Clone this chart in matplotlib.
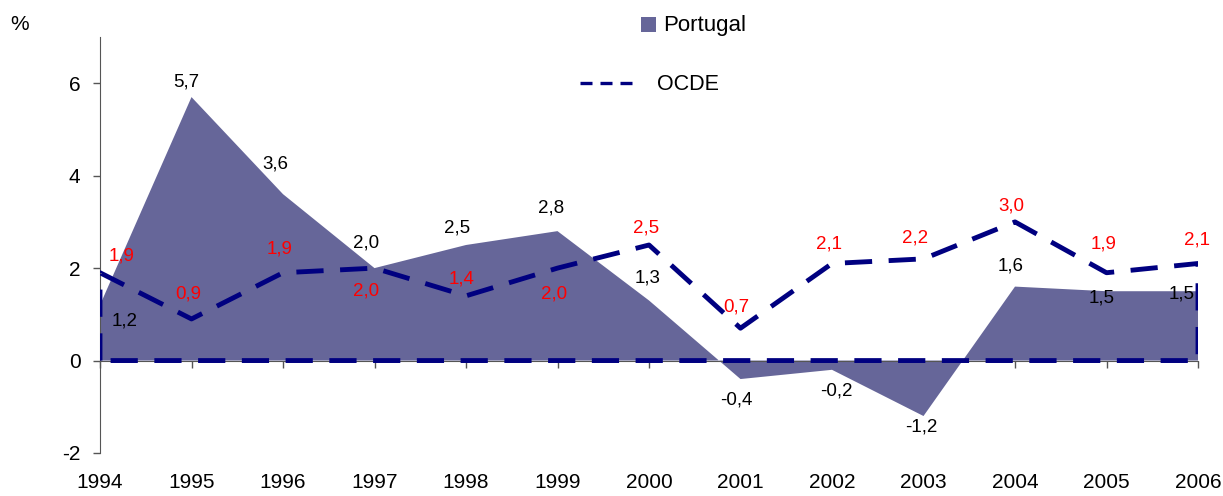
import matplotlib
matplotlib.use("Agg")
import matplotlib.pyplot as plt
import matplotlib.transforms as mtransforms
import numpy as np

years = [1994, 1995, 1996, 1997, 1998, 1999, 2000, 2001, 2002, 2003, 2004, 2005, 2006]
portugal = [1.2, 5.7, 3.6, 2.0, 2.5, 2.8, 1.3, -0.4, -0.2, -1.2, 1.6, 1.5, 1.5]
ocde = [1.9, 0.9, 1.9, 2.0, 1.4, 2.0, 2.5, 0.7, 2.1, 2.2, 3.0, 1.9, 2.1]
yticks = [-2, 0, 2, 4, 6]

# label centre offsets from the point, in pixels (dx, dy up)
pt_off = [(25, -16), (-5, 15), (-8, 30), (-8, 25), (-9, 17), (-6, 23), (-1, 22),
          (-4, -21), (4, -21), (-2, -11), (-4, 21), (-5, -7), (-16, -3)]
oc_off = [(22, 17), (-3, 25), (-3, 24), (-8, -23), (-4, 17), (-3, -26), (-3, 17),
          (-4, 21), (-3, 19), (-8, 21), (-4, 16), (-3, 29), (-1, 23)]

plt.rcParams['font.family'] = ['Liberation Sans', 'DejaVu Sans']

fig = plt.figure(figsize=(12.23, 4.96), dpi=100)
ax = fig.add_axes([100/1223, 1-453/496, 1098/1223, 416/496])

ax.fill_between(years, portugal, 0, facecolor='#666699', edgecolor='none', zorder=2)
ax.fill_between(years, ocde, 0, facecolor='none', edgecolor='#000080',
                linewidth=3.5, linestyle=(0, (5.6, 3.4)), zorder=4)

ax.set_xlim(1994, 2006)
ax.set_ylim(-2, 7)
ax.spines['top'].set_visible(False)
ax.spines['right'].set_visible(False)
ax.spines['bottom'].set_position(('data', 0))
ax.spines['bottom'].set_color('#555555')
ax.spines['left'].set_color('#555555')
ax.spines['bottom'].set_zorder(3)
ax.set_yticks(yticks)
ax.set_yticklabels([str(v) for v in yticks], fontsize=15)
ax.set_xticks(years)
ax.set_xticklabels([])
ax.tick_params(axis='both', direction='out', length=5, color='#555555', width=1)
ax.tick_params(axis='y', pad=9)

trans = mtransforms.blended_transform_factory(ax.transData, ax.transAxes)
for y in years:
    ax.text(y, -30/416, str(y), transform=trans, ha='center', va='center', fontsize=15)

def fmt(v):
    return f"{v:.1f}".replace('.', ',')

px = 72 / 100.0
for x, v, (dx, dy) in zip(years, portugal, pt_off):
    ax.annotate(fmt(v), (x, v), xytext=(dx * px, dy * px), textcoords='offset points',
                ha='center', va='center', fontsize=13.5, color='black', zorder=6)
for x, v, (dx, dy) in zip(years, ocde, oc_off):
    ax.annotate(fmt(v), (x, v), xytext=(dx * px, dy * px), textcoords='offset points',
                ha='center', va='center', fontsize=13.5, color='#ff0000', zorder=6)

fig.text(20/1223, 1-25/496, '%', fontsize=15, ha='center', va='center')

# legend
fig.patches.append(plt.Rectangle((641/1223, 1-32/496), 15/1223, 15/496, transform=fig.transFigure,
                                 facecolor='#666699', edgecolor='none'))
fig.text(663/1223, 1-25/496, 'Portugal', fontsize=16, ha='left', va='center')
fig.lines.append(plt.Line2D([580/1223, 632/1223], [1-83/496, 1-83/496], transform=fig.transFigure,
                            color='#000080', linewidth=2.4, linestyle=(0, (3.6, 2.4))))
fig.text(657/1223, 1-85/496, 'OCDE', fontsize=15.5, ha='left', va='center')

fig.savefig('out.png', dpi=100)
